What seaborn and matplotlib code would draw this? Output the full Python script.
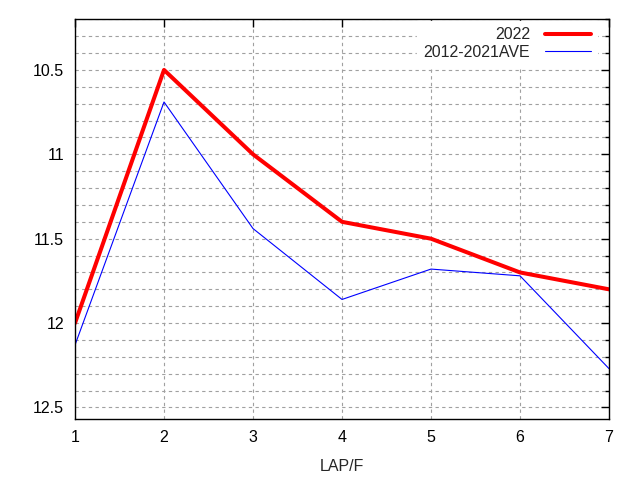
import matplotlib
matplotlib.use("Agg")
import matplotlib.pyplot as plt
import seaborn as sns
import pandas as pd
from matplotlib.ticker import MultipleLocator, FuncFormatter
from matplotlib.lines import Line2D

laps = [1, 2, 3, 4, 5, 6, 7]
y2022 = [12.0, 10.5, 11.0, 11.4, 11.5, 11.7, 11.8]
yave = [12.13, 10.69, 11.44, 11.86, 11.68, 11.72, 12.27]
series_names = ["2022", "2012-2021AVE"]

df = pd.DataFrame({
    "lap": laps * 2,
    "time": y2022 + yave,
    "series": [series_names[0]] * len(laps) + [series_names[1]] * len(laps),
})

sns.set_style("white")
plt.rcParams["font.family"] = ["Liberation Sans", "DejaVu Sans"]

fig = plt.figure(figsize=(6.4, 4.8), dpi=100)
ax = fig.add_axes([0.1172, 0.1265, 0.8344, 0.8333])

sns.lineplot(data=df, x="lap", y="time", hue="series", size="series",
             palette={series_names[0]: "#ff0000", series_names[1]: "#0000ff"},
             sizes={series_names[0]: 2.9, series_names[1]: 0.8},
             ax=ax, legend=False)

ax.set_xlim(1, 7)
ax.set_ylim(12.57, 10.2)
ax.xaxis.set_major_locator(MultipleLocator(1))
ax.yaxis.set_major_locator(MultipleLocator(0.5))
ax.yaxis.set_minor_locator(MultipleLocator(0.1))
ax.yaxis.set_major_formatter(FuncFormatter(lambda v, p: f"{v:g}"))

ax.grid(True, which="major", axis="x", color="#a0a0a0", linestyle=(0, (3, 3)), linewidth=0.8)
ax.grid(True, which="both", axis="y", color="#a0a0a0", linestyle=(0, (3, 3)), linewidth=0.8)
ax.tick_params(which="both", direction="in", top=True, right=True, colors="black",
               labelsize=11.5, length=6, width=1)
ax.tick_params(which="minor", length=3)
ax.tick_params(axis="x", pad=8)
ax.tick_params(axis="y", pad=8)
for s in ax.spines.values():
    s.set_visible(True)
    s.set_color("black")
    s.set_linewidth(1)

ax.set_xlabel("LAP/F", fontsize=11.5, labelpad=10)
ax.set_ylabel("")

handles = [Line2D([], [], color="#ff0000", lw=2.9), Line2D([], [], color="#0000ff", lw=0.8)]
leg = ax.legend(handles, series_names, loc="upper right", markerfirst=False,
                bbox_to_anchor=(1 - 7 / 534, 1 + 3 / 400),
                frameon=True, fontsize=11.5, handlelength=2.9, handletextpad=0.9,
                borderaxespad=0.3, labelspacing=0.15, fancybox=False)
leg.get_frame().set_facecolor("white")
leg.get_frame().set_edgecolor("white")
leg.get_frame().set_alpha(1)
for t in leg.get_texts():
    t.set_ha("right")

fig.savefig("out.png", dpi=100)
